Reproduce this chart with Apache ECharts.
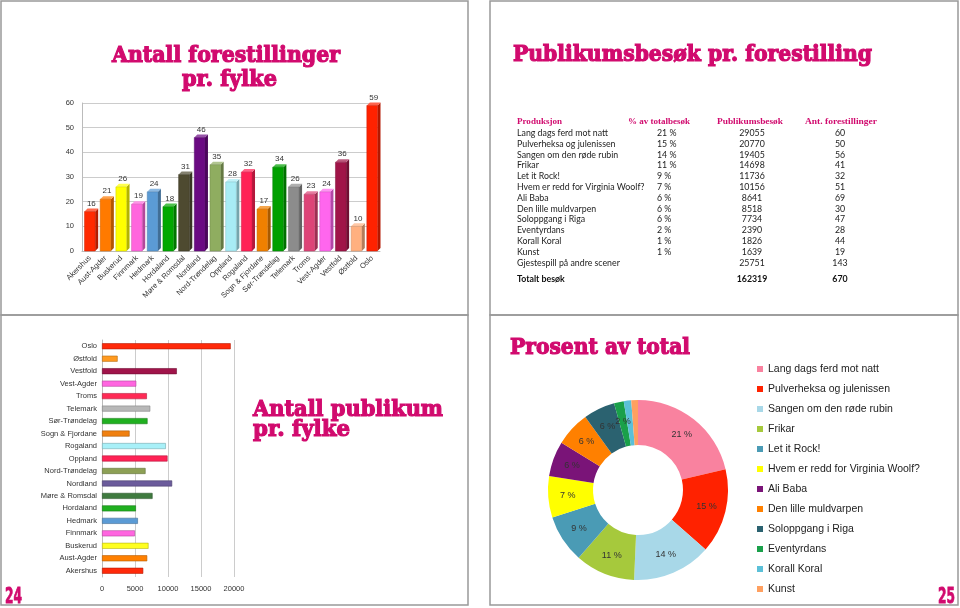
<!DOCTYPE html>
<html>
<head>
<meta charset="utf-8">
<script src="https://cdn.jsdelivr.net/npm/echarts@6/dist/echarts.min.js"></script>
<style>
html, body { margin: 0; padding: 0; background: #fff; }
#main { width: 960px; height: 608px; }
</style>
</head>
<body>
<div id="main"></div>
<script>
// fylker (samme rekkefølge i begge fylke-diagrammene)
const fylker = ['Akershus', 'Aust-Agder', 'Buskerud', 'Finnmark', 'Hedmark', 'Hordaland', 'Møre & Romsdal', 'Nordland', 'Nord-Trøndelag', 'Oppland', 'Rogaland', 'Sogn & Fjordane', 'Sør-Trøndelag', 'Telemark', 'Troms', 'Vest-Agder', 'Vestfold', 'Østfold', 'Oslo'];
const forestillinger = [16, 21, 26, 19, 24, 18, 31, 46, 35, 28, 32, 17, 34, 26, 23, 24, 36, 10, 59];
const publikum = [6250, 6850, 7050, 4990, 5440, 5140, 7660, 10630, 6600, 9930, 9680, 4180, 6900, 7310, 6800, 5190, 11340, 2370, 19500];
const farger1 = ['#ff2a00', '#ff7a00', '#ffff00', '#ff66dd', '#5b9bd5', '#00a800', '#4e4a30', '#6a0a82', '#8fad60', '#a8ecf5', '#ff2255', '#f08000', '#00a000', '#8c8c8c', '#dd4477', '#ff66ee', '#a01448', '#ffb080', '#ff2200'];
const farger2 = ['#ff2a0a', '#ff8000', '#ffff20', '#ff66e0', '#5b9bd5', '#20b020', '#3f7a3f', '#6b5b9b', '#8da055', '#ff2255', '#a8f0f8', '#f08010', '#20b020', '#b8b8b8', '#ff2a55', '#ff66e0', '#a0144a', '#ff9a20', '#ff2a0a'];

// tabell: publikumsbesøk pr. forestilling
const kolonner = ['Produksjon', '% av totalbesøk', 'Publikumsbesøk', 'Ant. forestillinger'];
const produksjoner = ['Lang dags ferd mot natt', 'Pulverheksa og julenissen', 'Sangen om den røde rubin', 'Frikar', 'Let it Rock!', 'Hvem er redd for Virginia Woolf?', 'Ali Baba', 'Den lille muldvarpen', 'Soloppgang i Riga', 'Eventyrdans', 'Korall Koral', 'Kunst', 'Gjestespill på andre scener'];
const prosent = ['21 %', '15 %', '14 %', '11 %', '9 %', '7 %', '6 %', '6 %', '6 %', '2 %', '1 %', '1 %', ''];
const besok = [29055, 20770, 19405, 14698, 11736, 10156, 8641, 8518, 7734, 2390, 1826, 1639, 25751];
const antall = [60, 50, 56, 41, 32, 51, 69, 30, 47, 28, 44, 19, 143];
const totalTekst = 'Totalt besøk';

const pieFarger = ['#f9829f', '#ff2200', '#a8d8e8', '#a6c93c', '#4a9bb5', '#ffff00', '#7a1478', '#ff8000', '#2b6270', '#1aa04a', '#5bc0d8', '#ffa060'];

const magenta = '#d10a6e';
const titleFont = '"DejaVu Serif", serif';

// lys/mørk variant av en farge
function shade(hex, f) {
    const n = parseInt(hex.slice(1), 16);
    let r = n >> 16, g = (n >> 8) & 255, b = n & 255;
    const t = f < 0 ? 0 : 255, p = Math.abs(f);
    r = Math.round(r + (t - r) * p);
    g = Math.round(g + (t - g) * p);
    b = Math.round(b + (t - b) * p);
    return 'rgb(' + r + ',' + g + ',' + b + ')';
}

// skaler tekst til ønsket bredde
const ctx = document.createElement('canvas').getContext('2d');
function fit(text, font, width) {
    ctx.font = font;
    return width / ctx.measureText(text).width;
}

function title(text, left, baseline, width, size) {
    const font = 'bold ' + size + 'px ' + titleFont;
    return {
        type: 'text', x: left, y: baseline - 0.3 * size,
        scaleX: fit(text, font, width),
        style: { text: text, fill: magenta, stroke: magenta, lineWidth: 1.2, font: font, align: 'left', verticalAlign: 'middle' }
    };
}

// 3D-aktige søyler
function renderBar3d(params, api) {
    const i = api.value(0);
    const v = api.value(1);
    const top = api.coord([i, v]);
    const base = api.coord([i, 0]);
    const w = api.size([1, 0])[0] * 0.68;
    const d = 3;
    const c = farger1[params.dataIndex];
    const l = top[0] - w / 2, r = top[0] + w / 2;
    return {
        type: 'group',
        children: [
            { type: 'polygon', shape: { points: [[r, top[1]], [r + d, top[1] - d], [r + d, base[1] - d], [r, base[1]]] }, style: { fill: shade(c, -0.3) } },
            { type: 'polygon', shape: { points: [[l, top[1]], [l + d, top[1] - d], [r + d, top[1] - d], [r, top[1]]] }, style: { fill: shade(c, 0.3) } },
            { type: 'rect', shape: { x: l, y: top[1], width: w, height: base[1] - top[1] }, style: { fill: c, stroke: shade(c, -0.2), lineWidth: 0.5 } },
            { type: 'text', x: top[0] + d / 2, y: top[1] - d - 1, style: { text: String(v), fill: '#333', fontSize: 8, fontFamily: 'Liberation Sans', align: 'center', verticalAlign: 'bottom' } }
        ]
    };
}

const graphics = [];
// lysbilde-rammer
[[1, 1, 467, 314], [490, 1, 468, 314], [1, 315, 467, 290], [490, 315, 468, 290]].forEach(b => {
    graphics.push({ type: 'rect', shape: { x: b[0], y: b[1], width: b[2], height: b[3] }, style: { fill: 'none', stroke: '#999', lineWidth: 1.5 }, z: 0 });
});

graphics.push(title('Antall forestillinger', 112, 63, 228, 22));
graphics.push(title('pr. fylke', 182, 87, 95, 22));
graphics.push(title('Publikumsbesøk pr. forestilling', 513, 62, 359, 22));
graphics.push(title('Antall publikum', 253, 417, 190, 22));
graphics.push(title('pr. fylke', 253, 437, 97, 22));
graphics.push(title('Prosent av total', 510, 355, 180, 23));

// sidetall
const numFont = 'bold 22px "DejaVu Sans Condensed", "DejaVu Sans", sans-serif';
graphics.push({ type: 'text', x: 5, y: 597, scaleX: fit('24', numFont, 17), style: { text: '24', font: numFont, fill: magenta, stroke: magenta, lineWidth: 0.8, verticalAlign: 'middle' } });
graphics.push({ type: 'text', x: 938, y: 597, scaleX: fit('25', numFont, 17), style: { text: '25', font: numFont, fill: magenta, stroke: magenta, lineWidth: 0.8, verticalAlign: 'middle' } });

// tabell
const headFont = 'bold 9px "Liberation Serif", serif';
const bodyFont = '9.5px Lato, sans-serif';
const bodyScale = fit(produksjoner[0], bodyFont, 91);
const headX = [517, 628, 750, 841];
const headW = [45, 62, 66, 72];
kolonner.forEach((k, j) => {
    const s = fit(k, headFont, headW[j]);
    graphics.push({ type: 'text', x: j < 2 ? headX[j] : headX[j] - headW[j] / 2, y: 122, scaleX: s, style: { text: k, font: headFont, fill: magenta, verticalAlign: 'middle' } });
});
function cell(text, x, y, align, font, color) {
    return { type: 'text', x: x, y: y, scaleX: bodyScale, style: { text: text, font: font || bodyFont, fill: color || '#222', align: align, verticalAlign: 'middle' } };
}
produksjoner.forEach((p, i) => {
    const y = 133 + i * 10.8;
    graphics.push(cell(p, 517, y, 'left'));
    graphics.push(cell(prosent[i], 657, y, 'left'));
    graphics.push(cell(String(besok[i]), 752, y, 'center'));
    graphics.push(cell(String(antall[i]), 840, y, 'center'));
});
const boldBody = 'bold 9.5px Lato, sans-serif';
graphics.push(cell(totalTekst, 517, 279, 'left', boldBody, '#111'));
graphics.push(cell(String(besok.reduce((a, b) => a + b, 0)), 752, 279, 'center', boldBody, '#111'));
graphics.push(cell(String(antall.reduce((a, b) => a + b, 0)), 840, 279, 'center', boldBody, '#111'));

const chart = echarts.init(document.getElementById('main'));
const option = {
    animation: false,
    textStyle: { fontFamily: '"Liberation Sans", Arial, sans-serif' },
    grid: [
        { left: 82, top: 103, width: 298, height: 148 },
        { left: 102, top: 340, width: 132, height: 237 }
    ],
    xAxis: [
        {
            gridIndex: 0, type: 'category', data: fylker,
            axisTick: { show: false },
            axisLine: { lineStyle: { color: '#bbb' } },
            axisLabel: { rotate: 45, fontSize: 7.5, color: '#333', interval: 0, margin: 6 }
        },
        {
            gridIndex: 1, type: 'value', min: 0, max: 20000, interval: 5000,
            axisLabel: { fontSize: 7.5, color: '#333', margin: 8, formatter: v => String(v) },
            splitLine: { lineStyle: { color: '#ccc' } },
            axisLine: { show: false }, axisTick: { show: false }
        }
    ],
    yAxis: [
        {
            gridIndex: 0, type: 'value', min: 0, max: 60, interval: 10,
            axisLabel: { fontSize: 7.5, color: '#333', margin: 8 },
            splitLine: { lineStyle: { color: '#ccc' } },
            axisLine: { show: true, lineStyle: { color: '#bbb' } }
        },
        {
            gridIndex: 1, type: 'category', data: fylker,
            axisTick: { show: false },
            axisLine: { lineStyle: { color: '#bbb' } },
            axisLabel: { fontSize: 7.5, color: '#333', interval: 0, margin: 5 }
        }
    ],
    legend: {
        orient: 'vertical', left: 752, top: 358,
        icon: 'rect', itemWidth: 6, itemHeight: 6, itemGap: 8,
        textStyle: { fontSize: 10.5, color: '#222', lineHeight: 12 },
        data: produksjoner.slice(0, 12)
    },
    series: [
        {
            type: 'custom', xAxisIndex: 0, yAxisIndex: 0,
            renderItem: renderBar3d,
            data: fylker.map((f, i) => [i, forestillinger[i]])
        },
        {
            type: 'bar', xAxisIndex: 1, yAxisIndex: 1, barWidth: 6,
            data: publikum.map((v, i) => ({ value: v, itemStyle: { color: farger2[i], borderColor: shade(farger2[i], -0.3), borderWidth: 0.6 } }))
        },
        {
            type: 'pie', center: [638, 490], radius: [45, 90], startAngle: 90,
            color: pieFarger,
            label: {
                position: 'inside', fontSize: 9, color: '#333',
                formatter: p => Math.round(p.percent) + ' %'
            },
            labelLine: { show: false },
            data: produksjoner.slice(0, 12).map((n, i) => ({ name: n, value: besok[i] }))
        }
    ],
    graphic: graphics
};
chart.setOption(option);
</script>
</body>
</html>
